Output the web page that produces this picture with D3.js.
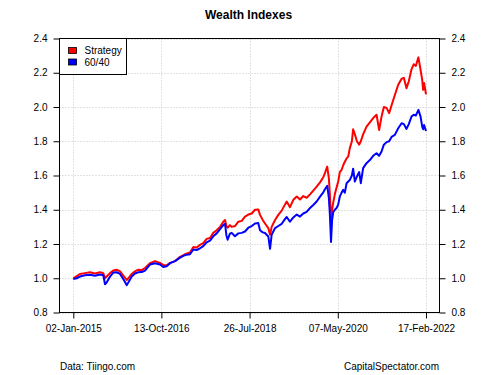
<!DOCTYPE html>
<html>
<head>
<meta charset="utf-8">
<script src="https://cdn.jsdelivr.net/npm/d3@7"></script>
<style>
  body { margin: 0; background: #fff; }
  text { font-family: "Liberation Sans", Arial, sans-serif; }
</style>
</head>
<body>
<div id="chart"></div>
<script>
// dates, values
const dates = [
    '2015-01-02', '2015-01-27', '2015-02-20', '2015-03-29', '2015-05-05', '2015-06-11', '2015-07-18',
    '2015-08-11', '2015-08-24', '2015-09-05', '2015-09-30', '2015-10-24', '2015-11-18', '2015-12-13',
    '2016-01-06', '2016-01-31', '2016-02-12', '2016-03-08', '2016-04-01', '2016-04-26', '2016-05-21',
    '2016-06-14', '2016-07-21', '2016-08-27', '2016-10-03', '2016-10-27', '2016-11-21', '2016-12-16',
    '2017-01-22', '2017-02-28', '2017-04-05', '2017-05-12', '2017-06-06', '2017-07-01', '2017-07-25',
    '2017-08-18', '2017-09-12', '2017-10-07', '2017-10-31', '2017-11-25', '2017-12-20', '2018-01-13',
    '2018-01-26', '2018-02-05', '2018-02-14', '2018-03-03', '2018-03-16', '2018-04-09', '2018-05-04',
    '2018-05-29', '2018-06-22', '2018-07-17', '2018-08-11', '2018-09-04', '2018-09-28', '2018-10-11',
    '2018-10-31', '2018-11-17', '2018-12-11', '2018-12-24', '2019-01-05', '2019-01-30', '2019-02-23',
    '2019-03-20', '2019-04-13', '2019-04-26', '2019-05-20', '2019-06-14', '2019-07-09', '2019-08-02',
    '2019-08-26', '2019-09-20', '2019-10-15', '2019-11-08', '2019-12-03', '2019-12-28', '2020-01-21',
    '2020-02-02', '2020-02-19', '2020-03-02', '2020-03-09', '2020-03-18', '2020-03-26', '2020-04-03',
    '2020-04-15', '2020-04-28', '2020-05-10', '2020-05-22', '2020-06-04', '2020-06-16', '2020-06-28',
    '2020-07-11', '2020-07-23', '2020-08-04', '2020-08-19', '2020-08-28', '2020-09-10', '2020-09-25',
    '2020-10-12', '2020-10-24', '2020-11-10', '2020-12-05', '2020-12-30', '2021-01-23', '2021-02-17',
    '2021-03-08', '2021-03-26', '2021-04-12', '2021-05-02', '2021-05-21', '2021-06-08', '2021-07-02',
    '2021-07-27', '2021-08-21', '2021-09-07', '2021-09-26', '2021-10-13', '2021-11-02', '2021-11-19',
    '2021-12-04', '2021-12-23', '2022-01-08', '2022-01-20', '2022-01-27', '2022-02-03', '2022-02-17',
];

const strategy = [
    1.000, 1.012, 1.025, 1.030, 1.035, 1.028, 1.035,
    1.030, 1.000, 1.010, 1.030, 1.045, 1.050, 1.040,
    1.015, 0.990, 1.000, 1.025, 1.040, 1.050, 1.048,
    1.060, 1.088, 1.100, 1.090, 1.078, 1.075, 1.090,
    1.100, 1.125, 1.140, 1.150, 1.182, 1.180, 1.195,
    1.205, 1.230, 1.235, 1.265, 1.280, 1.300, 1.330,
    1.340, 1.305, 1.295, 1.310, 1.300, 1.305, 1.330,
    1.335, 1.360, 1.372, 1.378, 1.400, 1.402, 1.370,
    1.340, 1.320, 1.293, 1.254, 1.300, 1.340, 1.370,
    1.395, 1.430, 1.448, 1.415, 1.458, 1.477, 1.460,
    1.480, 1.470, 1.490, 1.512, 1.535, 1.560, 1.590,
    1.614, 1.652, 1.585, 1.497, 1.350, 1.400, 1.440,
    1.490, 1.530, 1.565, 1.620, 1.633, 1.660, 1.680,
    1.700, 1.710, 1.760, 1.800, 1.870, 1.840, 1.800,
    1.780, 1.800, 1.840, 1.885, 1.910, 1.935, 1.955,
    1.866, 1.944, 2.000, 1.995, 1.964, 2.010, 2.070,
    2.130, 2.165, 2.170, 2.110, 2.150, 2.220, 2.250,
    2.240, 2.290, 2.216, 2.158, 2.100, 2.140, 2.074,
];

const sixtyForty = [
    0.995, 1.000, 1.010, 1.018, 1.020, 1.015, 1.022,
    1.018, 0.965, 0.975, 1.010, 1.033, 1.035, 1.025,
    0.995, 0.960, 0.975, 1.010, 1.028, 1.035, 1.036,
    1.045, 1.080, 1.088, 1.080, 1.066, 1.070, 1.088,
    1.100, 1.120, 1.135, 1.140, 1.168, 1.165, 1.175,
    1.188, 1.210, 1.220, 1.245, 1.262, 1.287, 1.310,
    1.318, 1.250, 1.225, 1.260, 1.265, 1.245, 1.262,
    1.265, 1.273, 1.295, 1.305, 1.320, 1.322, 1.280,
    1.268, 1.264, 1.244, 1.172, 1.254, 1.293, 1.305,
    1.318, 1.345, 1.358, 1.330, 1.355, 1.372, 1.360,
    1.378, 1.388, 1.410, 1.428, 1.448, 1.477, 1.502,
    1.520, 1.540, 1.470, 1.380, 1.212, 1.340, 1.385,
    1.400, 1.410, 1.430, 1.477, 1.500, 1.516, 1.500,
    1.555, 1.565, 1.574, 1.600, 1.640, 1.565, 1.594,
    1.620, 1.555, 1.643, 1.672, 1.690, 1.715, 1.730,
    1.715, 1.740, 1.780, 1.795, 1.800, 1.825, 1.837,
    1.876, 1.905, 1.900, 1.872, 1.900, 1.944, 1.955,
    1.950, 1.983, 1.944, 1.885, 1.870, 1.895, 1.860,
];

const seriesNames = ['Strategy', '60/40'];
const seriesColors = ['#ff0000', '#0000ff'];
const xTickDates = ['2015-01-02', '2016-10-13', '2018-07-26', '2020-05-07', '2022-02-17'];
const yTicks = [0.8, 1.0, 1.2, 1.4, 1.6, 1.8, 2.0, 2.2, 2.4];

const width = 500;
const height = 375;
const box = {left: 59.5, right: 439.5, top: 38.5, bottom: 312.5};

const parseDate = d3.timeParse('%Y-%m-%d');
const formatDate = d3.timeFormat('%d-%b-%Y');

const x = d3.scaleTime()
    .domain([parseDate(xTickDates[0]), parseDate(xTickDates[xTickDates.length - 1])])
    .range([73.3, 426]);

const y = d3.scaleLinear()
    .domain([0.8, 2.4])
    .range([box.bottom, box.top]);

const svg = d3.select('#chart').append('svg')
    .attr('width', width)
    .attr('height', height);

svg.append('rect')
    .attr('width', width)
    .attr('height', height)
    .attr('fill', '#fff');

// grid
const grid = svg.append('g').attr('class', 'grid')
    .attr('stroke', '#c4c4c4')
    .attr('stroke-width', 1)
    .attr('stroke-dasharray', '1,2');

grid.selectAll('line.h')
    .data(yTicks)
    .join('line')
    .attr('class', 'h')
    .attr('x1', box.left)
    .attr('x2', box.right)
    .attr('y1', d => Math.round(y(d)) + 0.5)
    .attr('y2', d => Math.round(y(d)) + 0.5);

grid.selectAll('line.v')
    .data(xTickDates)
    .join('line')
    .attr('class', 'v')
    .attr('x1', d => Math.round(x(parseDate(d))) + 0.5)
    .attr('x2', d => Math.round(x(parseDate(d))) + 0.5)
    .attr('y1', box.top)
    .attr('y2', box.bottom);

// series
const rows = dates.map((d, i) => ({date: parseDate(d), values: [strategy[i], sixtyForty[i]]}));

const lineFor = k => d3.line()
    .x(d => x(d.date))
    .y(d => y(d.values[k]));

seriesNames.forEach((name, k) => {
    svg.append('path')
        .datum(rows)
        .attr('fill', 'none')
        .attr('stroke', seriesColors[k])
        .attr('stroke-width', 2)
        .attr('stroke-linejoin', 'round')
        .attr('d', lineFor(k));
});

// box
svg.append('rect')
    .attr('x', box.left)
    .attr('y', box.top)
    .attr('width', box.right - box.left)
    .attr('height', box.bottom - box.top)
    .attr('fill', 'none')
    .attr('stroke', '#000')
    .attr('stroke-width', 1);

// axes
const styleAxis = (g) => {
    g.select('.domain').remove();
    g.selectAll('.tick line').attr('stroke', '#000');
    g.selectAll('.tick text')
        .attr('fill', '#000')
        .style('font-family', '"Liberation Sans", Arial, sans-serif')
        .style('font-size', '10px');
};

svg.append('g')
    .attr('transform', `translate(0, ${box.bottom})`)
    .call(d3.axisBottom(x)
        .tickValues(xTickDates.map(parseDate))
        .tickFormat(formatDate)
        .tickSize(6)
        .tickPadding(6))
    .call(styleAxis);

svg.append('g')
    .attr('transform', `translate(${box.left}, 0)`)
    .call(d3.axisLeft(y)
        .tickValues(yTicks)
        .tickFormat(d3.format('.1f'))
        .tickSize(6)
        .tickPadding(6))
    .call(styleAxis);

svg.append('g')
    .attr('transform', `translate(${box.right}, 0)`)
    .call(d3.axisRight(y)
        .tickValues(yTicks)
        .tickFormat(d3.format('.1f'))
        .tickSize(6)
        .tickPadding(6))
    .call(styleAxis);

// legend
const legend = svg.append('g').attr('class', 'legend');
legend.append('rect')
    .attr('x', box.left)
    .attr('y', box.top)
    .attr('width', 67)
    .attr('height', 36)
    .attr('fill', '#fff')
    .attr('stroke', '#000');

seriesNames.forEach((name, k) => {
    legend.append('rect')
        .attr('x', 68.5)
        .attr('y', 47.5 + k * 11.5)
        .attr('width', 8)
        .attr('height', 6)
        .attr('fill', seriesColors[k])
        .attr('stroke', '#000')
        .attr('stroke-width', 0.8);
    legend.append('text')
        .attr('x', 84.5)
        .attr('y', 54.3 + k * 11.5)
        .style('font-size', '10px')
        .text(name);
});

// title and footer
svg.append('text')
    .attr('x', 248.5)
    .attr('y', 18.5)
    .attr('text-anchor', 'middle')
    .style('font-size', '12px')
    .style('font-weight', 'bold')
    .text('Wealth Indexes');

svg.append('text')
    .attr('x', 60)
    .attr('y', 370)
    .style('font-size', '10px')
    .text('Data: Tiingo.com');

svg.append('text')
    .attr('x', 439)
    .attr('y', 370)
    .attr('text-anchor', 'end')
    .style('font-size', '10px')
    .text('CapitalSpectator.com');
</script>
</body>
</html>
